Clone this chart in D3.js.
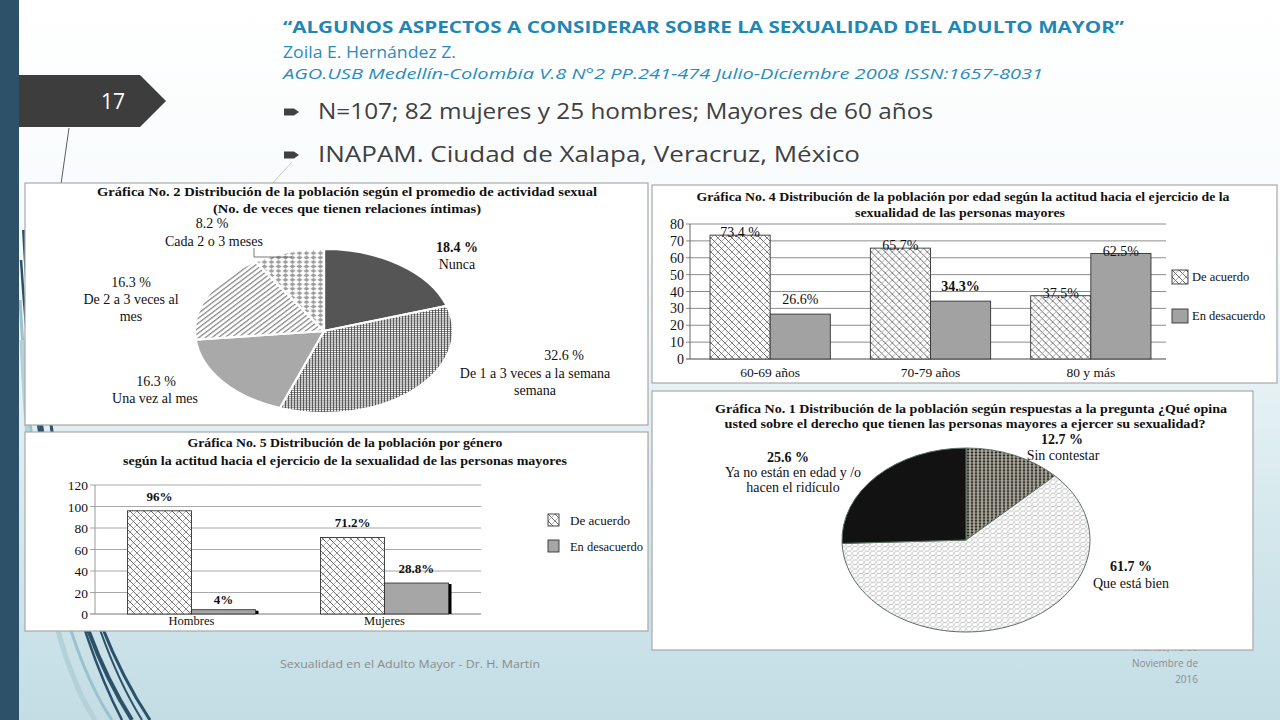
<!DOCTYPE html>
<html>
<head>
<meta charset="utf-8"/>
<title>Sexualidad del adulto mayor</title>
<script src="https://cdn.jsdelivr.net/npm/d3@7"></script>
<style>
	body{margin:0;overflow:hidden;background:#fff;}
	svg{display:block;}
	.serif{font-family:"Liberation Serif","Times New Roman",serif;fill:#111;}
	.slide{font-family:"Open Sans","Lato",sans-serif;}
</style>
</head>
<body>
<script>
// ---- data ----
var seriesNames = ["De acuerdo", "En desacuerdo"];

// Grafica 2
var pie2Labels = ["Nunca", "De 1 a 3 veces a la semana", "Una vez al mes", "De 2 a 3 veces al mes", "Cada 2 o 3 meses"];
var pie2Values = [18.4, 32.6, 16.3, 16.3, 8.2];

// Grafica 4
var ageGroups = ["60-69 años", "70-79 años", "80 y más"];
var ageAcuerdo = [73.4, 65.7, 37.5];
var ageDesacuerdo = [26.6, 34.3, 62.5];
var ageTicks = [0, 10, 20, 30, 40, 50, 60, 70, 80];

// Grafica 5
var genders = ["Hombres", "Mujeres"];
var genderAcuerdo = [96, 71.2];
var genderDesacuerdo = [4, 28.8];
var genderTicks = [0, 20, 40, 60, 80, 100, 120];

// Grafica 1
var pie1Labels = ["Sin contestar", "Que está bien", "Ya no están en edad y /o hacen el ridículo"];
var pie1Values = [12.7, 61.7, 25.6];

var W = 1280, H = 720;
var svg = d3.select("body").append("svg").attr("width", W).attr("height", H);
var defs = svg.append("defs");

// ---- background ----
var bg = defs.append("linearGradient").attr("id", "bg").attr("x1", 0).attr("y1", 0).attr("x2", 0).attr("y2", 1);
bg.append("stop").attr("offset", "0%").attr("stop-color", "#ffffff");
bg.append("stop").attr("offset", "35%").attr("stop-color", "#f6fafb");
bg.append("stop").attr("offset", "75%").attr("stop-color", "#d3e7ec");
bg.append("stop").attr("offset", "100%").attr("stop-color", "#c3dde5");
svg.append("rect").attr("width", W).attr("height", H).attr("fill", "url(#bg)");

// swooshes on the left
var swoosh = [
	{d: "M30,190 C40,420 70,600 150,720", c: "#2c5169", w: 3},
	{d: "M24,230 C36,450 62,610 132,720", c: "#2c5169", w: 4},
	{d: "M20,300 C30,480 58,640 112,720", c: "#9cc0cc", w: 3},
	{d: "M21,260 C34,470 75,630 122,720", c: "#2c5169", w: 2.5},
	{d: "M26,210 C44,440 80,620 142,720", c: "#2c5169", w: 2},
	{d: "M22,340 C30,520 50,650 95,720", c: "#b4d0d9", w: 5}
];
svg.selectAll("path.sw").data(swoosh).enter().append("path").attr("class", "sw")
	.attr("d", function(d){return d.d;}).attr("fill", "none")
	.attr("stroke", function(d){return d.c;}).attr("stroke-width", function(d){return d.w;});
svg.append("rect").attr("x", 0).attr("y", 0).attr("width", 19).attr("height", H).attr("fill", "#2c5169");

// thin lines
svg.append("path").attr("d", "M69,128 L61,184").attr("stroke", "#333").attr("stroke-width", 0.8);
svg.append("path").attr("d", "M292,162 L270,186").attr("stroke", "#bbb").attr("stroke-width", 0.8);

// footer
var foot = svg.append("g").attr("class", "slide").attr("fill", "#8b8b8b").attr("font-size", 10);
foot.append("text").attr("x", 280).attr("y", 668).attr("textLength", 260).attr("lengthAdjust", "spacingAndGlyphs")
	.text("Sexualidad en el Adulto Mayor - Dr. H. Martín");
foot.selectAll("text.dt").data(["Martes, 15 de", "Noviembre de", "2016"]).enter().append("text").attr("class", "dt")
	.attr("x", 1198).attr("y", function(d, i){return 651 + i * 16;}).attr("text-anchor", "end").text(function(d){return d;});

// slide number badge
svg.append("path").attr("d", "M19,75 L140,75 L166,101 L140,127 L19,127 Z").attr("fill", "#3d3d3d");
svg.append("text").attr("class", "slide").attr("x", 113).attr("y", 109).attr("text-anchor", "middle")
	.attr("fill", "#fff").attr("font-size", 21).text("17");

// header
var hd = svg.append("g").attr("class", "slide");
hd.append("text").attr("x", 283).attr("y", 33).attr("fill", "#1f86b6").attr("font-size", 16.5).attr("font-weight", "bold")
	.attr("textLength", 841).attr("lengthAdjust", "spacingAndGlyphs")
	.text("“ALGUNOS ASPECTOS A CONSIDERAR SOBRE LA SEXUALIDAD DEL ADULTO MAYOR”");
hd.append("text").attr("x", 283).attr("y", 58).attr("fill", "#2a8cbc").attr("font-size", 16)
	.attr("textLength", 173).attr("lengthAdjust", "spacingAndGlyphs").text("Zoila E. Hernández Z.");
hd.append("text").attr("x", 283).attr("y", 79).attr("fill", "#2a8cbc").attr("font-size", 14).attr("font-style", "italic")
	.attr("textLength", 760).attr("lengthAdjust", "spacingAndGlyphs")
	.text("AGO.USB Medellín-Colombia V.8 N°2 PP.241-474 Julio-Diciembre 2008 ISSN:1657-8031");
var bullets = [
	{t: "N=107; 82 mujeres y 25 hombres; Mayores de 60 años", y: 112, len: 615},
	{t: "INAPAM. Ciudad de Xalapa, Veracruz, México", y: 155, len: 542}
];
var bl = hd.selectAll("g.bl").data(bullets).enter().append("g").attr("class", "bl");
bl.append("path").attr("d", function(d){return "M284," + (d.y - 3.5) + " L294," + (d.y - 3.5) + " L299," + d.y + " L294," + (d.y + 3.5) + " L284," + (d.y + 3.5) + " Z";})
	.attr("fill", "#404040");
bl.append("text").attr("x", 318).attr("y", function(d){return d.y + 7;}).attr("fill", "#404040").attr("font-size", 21)
	.attr("textLength", function(d){return d.len;}).attr("lengthAdjust", "spacingAndGlyphs").text(function(d){return d.t;});

// ---- patterns ----
function pat(id, w, h, bgc){
	var p = defs.append("pattern").attr("id", id).attr("patternUnits", "userSpaceOnUse").attr("width", w).attr("height", h);
	p.append("rect").attr("width", w).attr("height", h).attr("fill", bgc);
	return p;
}
var p;
p = pat("hatchX", 7, 7, "#fff");
p.append("path").attr("d", "M0,0L7,7M-1,6L1,8M6,-1L8,1").attr("stroke", "#444").attr("stroke-width", 0.8);
p.append("path").attr("d", "M0,7L7,0M-1,1L1,-1M6,8L8,6").attr("stroke", "#777").attr("stroke-width", 0.6);
p = pat("grid2", 3, 3, "#fff");
p.append("path").attr("d", "M0,0.5H3M0.5,0V3").attr("stroke", "#3a3a3a").attr("stroke-width", 0.9);
p = pat("stripes2", 5, 5, "#fff").attr("patternTransform", "rotate(40)");
p.append("rect").attr("x", 0).attr("y", 0).attr("width", 1.6).attr("height", 5).attr("fill", "#8a8a8a");
p = pat("dots2", 7, 7, "#fff");
p.append("path").attr("d", "M3.5,0.4L6.6,3.5L3.5,6.6L0.4,3.5Z").attr("fill", "#9c9c9c");
p = pat("check1", 4, 4, "#cfccc0");
p.append("rect").attr("x", 0.6).attr("y", 0.6).attr("width", 2.8).attr("height", 2.8).attr("fill", "#24221b");
p = pat("wave1", 6, 6, "#fff");
p.append("path").attr("d", "M0,6 Q1.5,2 3,3 T6,0").attr("fill", "none").attr("stroke", "#999").attr("stroke-width", 0.6);
p.append("path").attr("d", "M0,0 Q1.5,4 3,3 T6,6").attr("fill", "none").attr("stroke", "#b5b5b5").attr("stroke-width", 0.5);

function panel(x, y, w, h){
	svg.append("rect").attr("x", x).attr("y", y).attr("width", w).attr("height", h)
		.attr("fill", "#fff").attr("stroke", "#a9a9a9").attr("stroke-width", 1.2);
}
function title(g, lines){
	g.selectAll(null).data(lines).enter().append("text").attr("class", "serif")
		.attr("x", function(d){return d.x;}).attr("y", function(d){return d.y;})
		.attr("text-anchor", "middle").attr("font-weight", "bold").attr("font-size", 13)
		.attr("textLength", function(d){return d.len;}).attr("lengthAdjust", "spacingAndGlyphs")
		.text(function(d){return d.t;});
}
function labels(g, items){
	g.selectAll(null).data(items).enter().append("text").attr("class", "serif")
		.attr("x", function(d){return d.x;}).attr("y", function(d){return d.y;})
		.attr("text-anchor", "middle").attr("font-size", 14)
		.attr("font-weight", function(d){return d.b ? "bold" : null;})
		.text(function(d){return d.t;});
}

// ---- Grafica 2 (pie) ----
panel(25, 183, 623, 242);
var g2 = svg.append("g");
title(g2, [
	{t: "Gráfica No. 2 Distribución de la población según el promedio de   actividad sexual", x: 347, y: 196, len: 500},
	{t: "(No. de veces  que tienen relaciones íntimas)", x: 347, y: 213, len: 268}
]);
var pie2Fill = ["#555555", "url(#grid2)", "#a9a9a9", "url(#stripes2)", "url(#dots2)"];
var rx2 = 129, ry2 = 82;
var pie2 = d3.pie().sort(null)(pie2Values);
var arc2 = d3.arc().innerRadius(0).outerRadius(rx2);
g2.append("g").attr("transform", "translate(324,331) scale(1," + (ry2 / rx2) + ")")
	.selectAll("path").data(pie2).enter().append("path")
	.attr("d", arc2).attr("fill", function(d, i){return pie2Fill[i];})
	.attr("stroke", "#fff").attr("stroke-width", 2.2).attr("vector-effect", "non-scaling-stroke");
g2.append("path").attr("d", "M254,248 L254,257 L292,257").attr("fill", "none").attr("stroke", "#555").attr("stroke-width", 0.8);
labels(g2, [
	{t: pie2Values[0] + " %", x: 457, y: 252, b: 1}, {t: pie2Labels[0], x: 457, y: 269},
	{t: pie2Values[1] + " %", x: 564, y: 360}, {t: pie2Labels[1], x: 535, y: 378}, {t: "semana", x: 535, y: 395},
	{t: pie2Values[2] + " %", x: 156, y: 386}, {t: pie2Labels[2], x: 155, y: 403},
	{t: pie2Values[3] + " %", x: 131, y: 287}, {t: "De 2 a 3 veces al", x: 131, y: 304}, {t: "mes", x: 131, y: 321},
	{t: pie2Values[4] + " %", x: 212, y: 228}, {t: pie2Labels[4], x: 214, y: 246}
]);

// ---- Grafica 4 (bars by age) ----
panel(652, 185, 625, 198);
var g4 = svg.append("g");
title(g4, [
	{t: "Gráfica No. 4  Distribución de la población por edad según la actitud hacia el  ejercicio de la", x: 963, y: 201, len: 533},
	{t: "sexualidad de las personas mayores", x: 960, y: 217, len: 210}
]);
var x4 = d3.scaleBand().domain(ageGroups).range([690, 1171]);
var x4s = d3.scaleBand().domain(seriesNames).range([0, x4.bandwidth()]).paddingOuter(0.333);
var y4 = d3.scaleLinear().domain([0, 80]).range([359, 224]);
g4.selectAll("line.grid").data(ageTicks).enter().append("line")
	.attr("x1", 686).attr("x2", 1166).attr("y1", function(d){return y4(d);}).attr("y2", function(d){return y4(d);})
	.attr("stroke", function(d){return d === 0 ? "#444" : "#8c8c8c";}).attr("stroke-width", 1);
g4.append("line").attr("x1", 690).attr("x2", 690).attr("y1", y4(80)).attr("y2", y4(0)).attr("stroke", "#666");
g4.selectAll("text.tk").data(ageTicks).enter().append("text").attr("class", "serif")
	.attr("x", 684).attr("y", function(d){return y4(d) + 5;}).attr("text-anchor", "end").attr("font-size", 14)
	.text(function(d){return d;});
var rows4 = ageGroups.map(function(a, i){return [
	{cat: a, s: seriesNames[0], v: ageAcuerdo[i], lbl: ageAcuerdo[i] + (i === 0 ? " %" : "%")},
	{cat: a, s: seriesNames[1], v: ageDesacuerdo[i], lbl: ageDesacuerdo[i] + "%"}
];});
var cell4 = g4.selectAll("g.cat").data(rows4).enter().append("g")
	.attr("transform", function(d){return "translate(" + x4(d[0].cat) + ",0)";});
cell4.selectAll("rect").data(function(d){return d;}).enter().append("rect")
	.attr("x", function(d){return x4s(d.s);}).attr("width", x4s.bandwidth())
	.attr("y", function(d){return y4(d.v);}).attr("height", function(d){return y4(0) - y4(d.v);})
	.attr("fill", function(d){return d.s === seriesNames[0] ? "url(#hatchX)" : "#a2a2a2";})
	.attr("stroke", "#333").attr("stroke-width", 0.9);
cell4.selectAll("text").data(function(d){return d;}).enter().append("text").attr("class", "serif")
	.attr("x", function(d){return x4s(d.s) + x4s.bandwidth() / 2;})
	.attr("y", function(d){return (d.s === seriesNames[0] || d.v > 50) ? y4(d.v) + 2 : y4(d.v) - 10;})
	.attr("text-anchor", "middle").attr("font-size", 14)
	.attr("font-family", function(d){return d.v === 34.3 ? "Liberation Sans, Arial, sans-serif" : null;})
	.attr("font-weight", function(d){return d.v === 34.3 ? "bold" : null;})
	.text(function(d){return d.lbl;});
g4.selectAll("text.xl").data(ageGroups).enter().append("text").attr("class", "serif")
	.attr("x", function(d){return x4(d) + x4.bandwidth() / 2;}).attr("y", 377).attr("text-anchor", "middle")
	.attr("font-size", 13.5).text(function(d){return d;});
var lg4 = g4.selectAll("g.lg").data(seriesNames).enter().append("g")
	.attr("transform", function(d, i){return "translate(1172," + (270 + i * 39) + ")";});
lg4.append("rect").attr("width", 16).attr("height", 14)
	.attr("fill", function(d, i){return i === 0 ? "url(#hatchX)" : "#a2a2a2";}).attr("stroke", "#333").attr("stroke-width", 0.9);
lg4.append("text").attr("class", "serif").attr("x", 20).attr("y", 11).attr("font-size", 12.5).text(function(d){return d;});

// ---- Grafica 5 (bars by gender) ----
panel(25, 432, 623, 199);
var g5 = svg.append("g");
title(g5, [
	{t: "Gráfica No. 5 Distribución de la población  por género", x: 345, y: 447, len: 315},
	{t: "según la actitud hacia el ejercicio  de la sexualidad  de las   personas mayores", x: 345, y: 465, len: 444}
]);
var x5 = d3.scaleBand().domain(genders).range([95, 481]);
var x5s = d3.scaleBand().domain(seriesNames).range([0, x5.bandwidth()]).paddingOuter(0.508);
var y5 = d3.scaleLinear().domain([0, 120]).range([614, 485]);
g5.selectAll("line.grid").data(genderTicks).enter().append("line")
	.attr("x1", 90).attr("x2", 481).attr("y1", function(d){return y5(d);}).attr("y2", function(d){return y5(d);})
	.attr("stroke", function(d){return d === 0 ? "#777" : "#a8a8a8";}).attr("stroke-width", 1);
g5.append("line").attr("x1", 95).attr("x2", 95).attr("y1", y5(120)).attr("y2", y5(0)).attr("stroke", "#999");
g5.selectAll("text.tk").data(genderTicks).enter().append("text").attr("class", "serif")
	.attr("x", 88).attr("y", function(d){return y5(d) + 5;}).attr("text-anchor", "end").attr("font-size", 13.5)
	.text(function(d){return d;});
var rows5 = genders.map(function(gn, i){return [
	{cat: gn, s: seriesNames[0], v: genderAcuerdo[i]},
	{cat: gn, s: seriesNames[1], v: genderDesacuerdo[i]}
];});
var cell5 = g5.selectAll("g.cat").data(rows5).enter().append("g")
	.attr("transform", function(d){return "translate(" + x5(d[0].cat) + ",0)";});
cell5.selectAll("rect.sh").data(function(d){return d.filter(function(e){return e.s === seriesNames[1];});}).enter().append("rect")
	.attr("x", function(d){return x5s(d.s) + x5s.bandwidth();}).attr("width", 3)
	.attr("y", function(d){return y5(d.v) + 1;}).attr("height", function(d){return y5(0) - y5(d.v) - 1;})
	.attr("fill", "#000");
cell5.selectAll("rect.bar").data(function(d){return d;}).enter().append("rect")
	.attr("x", function(d){return x5s(d.s);}).attr("width", x5s.bandwidth())
	.attr("y", function(d){return y5(d.v);}).attr("height", function(d){return y5(0) - y5(d.v);})
	.attr("fill", function(d){return d.s === seriesNames[0] ? "url(#hatchX)" : "#a6a6a6";})
	.attr("stroke", "#333").attr("stroke-width", 0.9);
cell5.selectAll("text").data(function(d){return d;}).enter().append("text").attr("class", "serif")
	.attr("x", function(d){return x5s(d.s) + x5s.bandwidth() / 2;})
	.attr("y", function(d){return y5(d.v) - (d.v < 10 ? 6 : 10);})
	.attr("text-anchor", "middle").attr("font-size", 13).attr("font-weight", "bold")
	.text(function(d){return d.v + "%";});
g5.selectAll("text.xl").data(genders).enter().append("text").attr("class", "serif")
	.attr("x", function(d){return x5(d) + x5.bandwidth() / 2;}).attr("y", 625).attr("text-anchor", "middle")
	.attr("font-size", 12.5).text(function(d){return d;});
var lg5 = g5.selectAll("g.lg").data(seriesNames).enter().append("g")
	.attr("transform", function(d, i){return "translate(548," + (514 + i * 26) + ")";});
lg5.append("rect").attr("width", 11).attr("height", 12)
	.attr("fill", function(d, i){return i === 0 ? "url(#hatchX)" : "#a6a6a6";}).attr("stroke", "#333").attr("stroke-width", 0.9);
lg5.append("text").attr("class", "serif").attr("x", 22).attr("y", 11).attr("font-size", 12.5)
	.attr("textLength", function(d, i){return i === 0 ? 60 : 73;}).attr("lengthAdjust", "spacingAndGlyphs")
	.text(function(d){return d;});

// ---- Grafica 1 (pie) ----
panel(652, 391, 601, 259);
var g1 = svg.append("g");
title(g1, [
	{t: "Gráfica No. 1 Distribución de la población  según respuestas a la  pregunta ¿Qué opina", x: 971, y: 413, len: 512},
	{t: "usted sobre el derecho que tienen las personas mayores a ejercer su sexualidad?", x: 965, y: 428, len: 481}
]);
var pie1Fill = ["url(#check1)", "url(#wave1)", "#121212"];
var rx1 = 124, ry1 = 92;
var pie1 = d3.pie().sort(null)(pie1Values);
var arc1 = d3.arc().innerRadius(0).outerRadius(rx1);
g1.append("g").attr("transform", "translate(966,540) scale(1," + (ry1 / rx1) + ")")
	.selectAll("path").data(pie1).enter().append("path")
	.attr("d", arc1).attr("fill", function(d, i){return pie1Fill[i];})
	.attr("stroke", "#5f6e63").attr("stroke-width", 1).attr("vector-effect", "non-scaling-stroke");
labels(g1, [
	{t: pie1Values[0] + " %", x: 1062, y: 444, b: 1}, {t: pie1Labels[0], x: 1063, y: 460},
	{t: pie1Values[2] + " %", x: 788, y: 462, b: 1}, {t: "Ya no están en edad y /o", x: 793, y: 477}, {t: "hacen el ridículo", x: 793, y: 492},
	{t: pie1Values[1] + " %", x: 1131, y: 571, b: 1}, {t: pie1Labels[1], x: 1131, y: 588}
]);
</script>
</body>
</html>
